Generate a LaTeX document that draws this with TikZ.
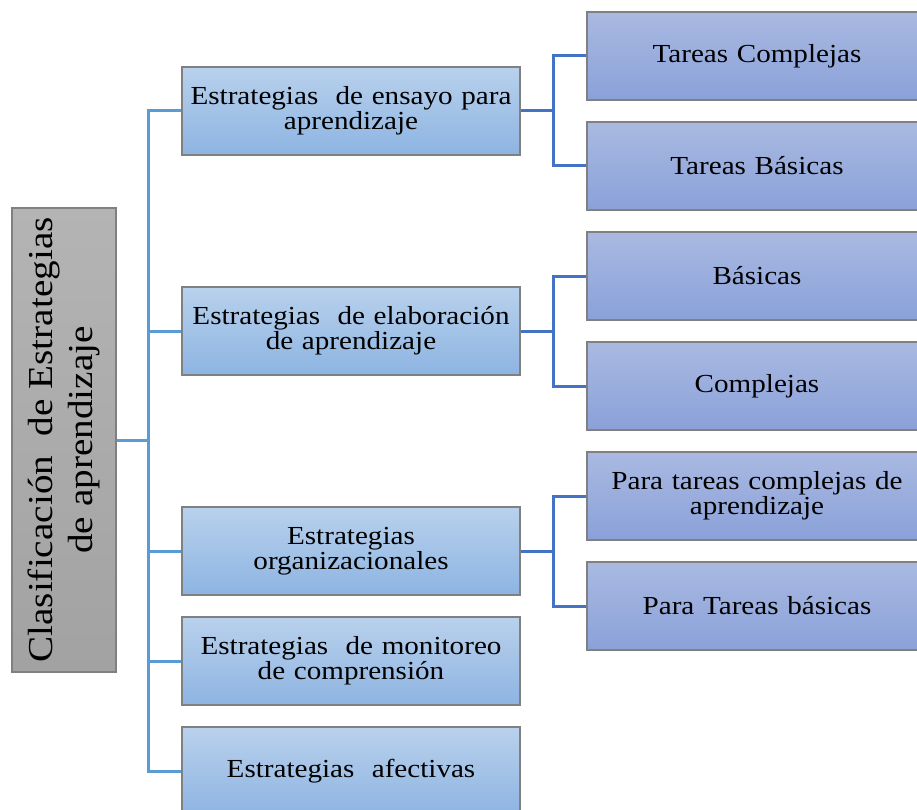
\documentclass[tikz,border=0pt]{standalone}
\usepackage{fontspec}
\newfontfamily\wfont[FakeStretch=1.12]{Liberation Serif}
\usetikzlibrary{positioning}
\definecolor{midtop}{HTML}{B9D1EC}
\definecolor{midbot}{HTML}{8DB4E2}
\definecolor{rtop}{HTML}{A9B9E1}
\definecolor{rbot}{HTML}{8AA1D9}
\definecolor{roottop}{HTML}{B4B4B4}
\definecolor{rootbot}{HTML}{A2A2A2}
\definecolor{trunkc}{HTML}{5B9BD5}
\definecolor{brc}{HTML}{4472C4}
\definecolor{edgec}{HTML}{808080}
\tikzset{
  base/.style={draw=edgec, line width=1.8pt, inner sep=2pt, align=center,
    font=\wfont\fontsize{26}{25}\selectfont, text=black},
  midbox/.style={base, top color=midtop, bottom color=midbot,
    minimum width=338pt, minimum height=88pt, text width=334pt},
  rbox/.style={base, top color=rtop, bottom color=rbot,
    minimum width=340pt, minimum height=88pt, text width=326pt},
  rootbox/.style={base, top color=roottop, bottom color=rootbot,
    minimum width=104pt, minimum height=464pt},
  trunk/.style={draw=trunkc, line width=3pt},
  brk/.style={draw=brc, line width=3pt}
}
\begin{document}
\begin{tikzpicture}[x=1pt,y=-1pt]
\clip (0,0) rectangle (917,810);
\fill[white] (0,0) rectangle (917,810);
% root
\node[rootbox] (root) at (64,440) {\rotatebox{90}{\fontsize{35}{44}\selectfont\begin{tabular}{@{}c@{}}Clasificación\ \ de Estrategias\\[-4pt] de aprendizaje\end{tabular}}};
% middle column
\node[midbox] (m1) at (351,111) {Estrategias\ \ de ensayo para\\aprendizaje};
\node[midbox] (m2) at (351,331) {Estrategias\ \ de elaboración\\de aprendizaje};
\node[midbox] (m3) at (351,551) {Estrategias\\organizacionales};
\node[midbox] (m4) at (351,661) {Estrategias\ \ de monitoreo\\de comprensión};
\node[midbox] (m5) at (351,771) {Estrategias\ \ afectivas};
% right column
\node[rbox] (r1) at (757,56) {Tareas Complejas};
\node[rbox] (r2) at (757,166) {Tareas Básicas};
\node[rbox] (r3) at (757,276) {Básicas};
\node[rbox] (r4) at (757,386) {Complejas};
\node[rbox] (r5) at (757,496) {Para tareas complejas de\\aprendizaje};
\node[rbox] (r6) at (757,606) {Para Tareas básicas};
% trunk connectors
\coordinate (tk) at (148,440);
\draw[trunk] (root.east) -- (tk);
\foreach \m in {m1,m2,m3,m4,m5}{\draw[trunk] (tk) |- (\m.west);}
% bracket connectors
\draw[brk] (m1.east) -- ++(33,0) |- (r1.west);
\draw[brk] (m1.east) -- ++(33,0) |- (r2.west);
\draw[brk] (m2.east) -- ++(33,0) |- (r3.west);
\draw[brk] (m2.east) -- ++(33,0) |- (r4.west);
\draw[brk] (m3.east) -- ++(33,0) |- (r5.west);
\draw[brk] (m3.east) -- ++(33,0) |- (r6.west);
\end{tikzpicture}
\end{document}
